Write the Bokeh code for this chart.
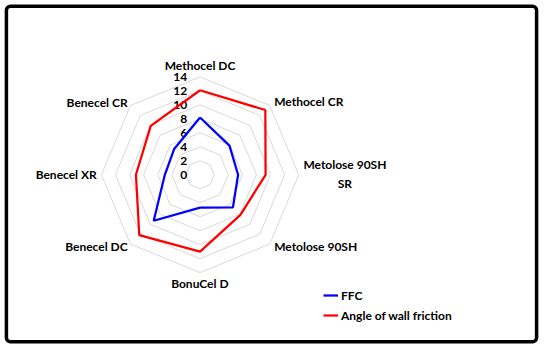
import math
from bokeh.plotting import figure
from bokeh.models import Range1d, Legend, LegendItem
from bokeh.embed import file_html
from bokeh.resources import INLINE
from bokeh.core.properties import value

# ---------------- data ----------------
categories = ["Methocel DC", "Methocel CR", "Metolose 90SH\nSR", "Metolose 90SH",
              "BonuCel D", "Benecel DC", "Benecel XR", "Benecel CR"]
ffc = [8.2, 5.9, 5.4, 6.6, 4.7, 9.3, 5.0, 5.2]
wall_friction = [12.1, 13.1, 9.3, 8.1, 11.0, 12.2, 9.1, 9.9]
tick_values = [0, 2, 4, 6, 8, 10, 12, 14]
tick_labels = ["0", "2", "4", "6", "8", "10", "12", "14"]
series_names = ["FFC", "Angle of wall friction"]

# ---------------- layout ----------------
W, H = 542, 347              # figure size in screen px
REF_W, REF_H = 550, 355      # layout reference frame
CX, CY = 202.5, 178.3        # radar centre in reference frame
PX = 7.15                    # reference px per value unit
FONT = "Lato"
FS = "12px"
SX = W / REF_W
SY = H / REF_H

def ix(x):
    return (x - CX) / PX

def iy(y):
    return (CY - y) / PX

p = figure(width=W, height=H, output_backend="svg", toolbar_location=None,
           x_range=Range1d(ix(0), ix(REF_W)),
           y_range=Range1d(iy(REF_H), iy(0)),
           min_border=0)
p.axis.visible = False
p.grid.visible = False
p.outline_line_color = None
p.background_fill_color = "white"
p.border_fill_color = "white"

n = len(categories)
angles = [math.pi / 2 - 2 * math.pi * i / n for i in range(n)]

def polar(vals):
    xs = [v * math.cos(a) for v, a in zip(vals, angles)]
    ys = [v * math.sin(a) for v, a in zip(vals, angles)]
    return xs + xs[:1], ys + ys[:1]

# grid rings
for t in tick_values[1:]:
    gx, gy = polar([t] * n)
    p.line(gx, gy, line_color="#d9d9d9", line_width=1)

# tick labels
p.text(x=[ix(CX - 13)] * len(tick_values), y=tick_values, text=tick_labels,
       text_font=value(FONT), text_font_style="bold", text_font_size=FS,
       text_align="right", text_baseline="middle", text_color="black")

# series
fx, fy = polar(ffc)
r_ffc = p.line(fx, fy, line_color="#0000ff", line_width=2.25)
wx, wy = polar(wall_friction)
r_awf = p.line(wx, wy, line_color="#ff0000", line_width=2.25)

# category labels (reference coords, alignment)
label_layout = [
    (202.5, 66, "center"),
    (277.7, 103.3, "left"),
    (349.5, 177.7, "center"),
    (277.7, 251.5, "left"),
    (202.3, 290, "center"),
    (129, 251.7, "right"),
    (97.7, 178.3, "right"),
    (129, 104, "right"),
]
for cat, (lx, ly, al) in zip(categories, label_layout):
    p.text(x=[ix(lx)], y=[iy(ly)], text=[cat], text_font=value(FONT),
           text_font_style="bold", text_font_size=FS, text_align=al,
           text_baseline="middle", text_color="black", text_line_height=1.3)

# outer border
p.quad(left=[ix(6)], right=[ix(544)], top=[iy(6)], bottom=[iy(349)],
       fill_color=None, line_color="black", line_width=3.5, border_radius=4)

legend = Legend(items=[LegendItem(label=series_names[0], renderers=[r_ffc]),
                       LegendItem(label=series_names[1], renderers=[r_awf])],
                location=(round(328 * SX), round((REF_H - 332) * SY)),
                orientation="vertical",
                glyph_width=15, glyph_height=20, label_height=20,
                label_standoff=3, spacing=0, padding=0, margin=0,
                border_line_color=None, background_fill_alpha=0,
                label_text_font=FONT, label_text_font_style="bold",
                label_text_font_size=FS, label_text_color="black")
p.add_layout(legend)

open("out.html", "w").write(file_html(p, INLINE))
